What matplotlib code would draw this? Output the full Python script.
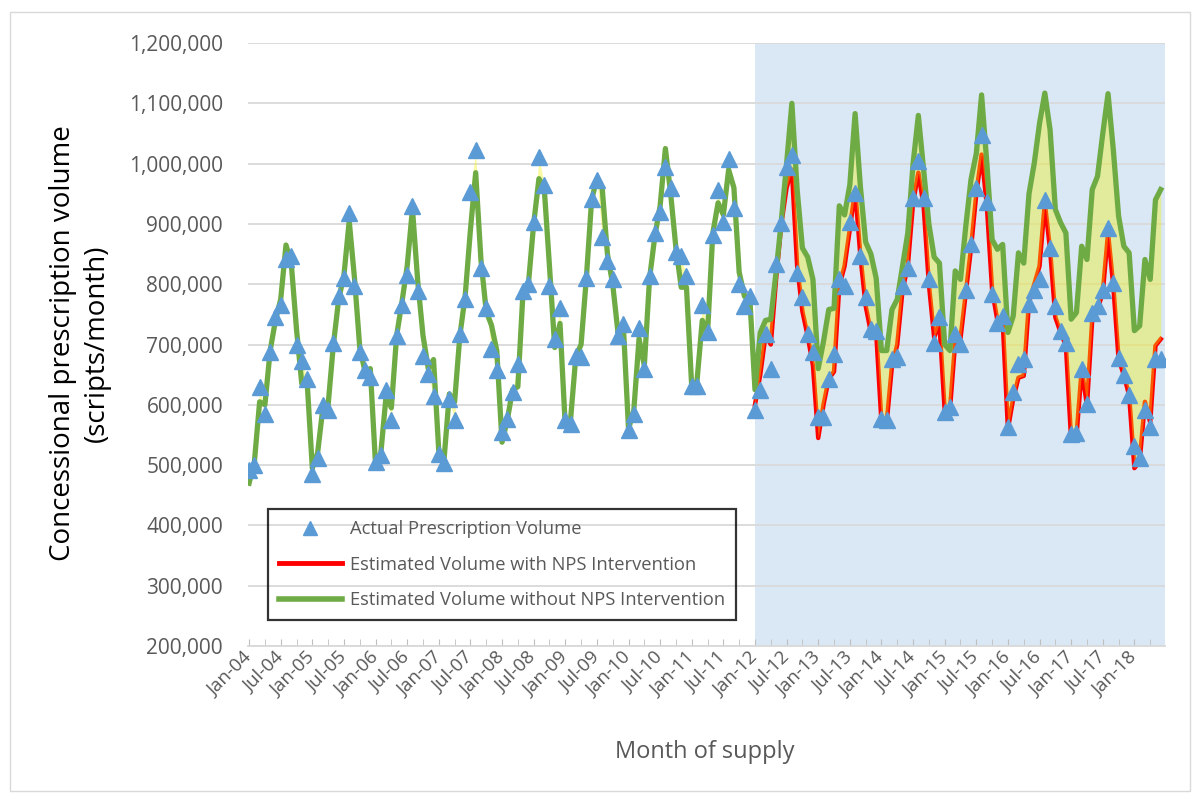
import numpy as np
import matplotlib
matplotlib.use("Agg")
import matplotlib.pyplot as plt
from matplotlib.lines import Line2D
from matplotlib.patches import Rectangle
from matplotlib.ticker import FuncFormatter, MultipleLocator

plt.rcParams['font.family'] = ['Open Sans', 'DejaVu Sans']

# ---------------- data (thousands of scripts / month) ----------------
tick_labels = ["Jan-04", "Jul-04", "Jan-05", "Jul-05", "Jan-06", "Jul-06", "Jan-07", "Jul-07",
               "Jan-08", "Jul-08", "Jan-09", "Jul-09", "Jan-10", "Jul-10", "Jan-11", "Jul-11",
               "Jan-12", "Jul-12", "Jan-13", "Jul-13", "Jan-14", "Jul-14", "Jan-15", "Jul-15",
               "Jan-16", "Jul-16", "Jan-17", "Jul-17", "Jan-18"]

# Jan-04 .. Jun-18 (174 months)
actual_volume = [
    492, 500, 629, 585, 687, 745, 766, 841, 846, 700, 673, 643,
    486, 511, 599, 591, 703, 780, 810, 918, 797, 687, 657, 646,
    505, 516, 624, 574, 714, 766, 816, 929, 788, 681, 651, 615,
    519, 503, 610, 574, 717, 775, 953, 1022, 827, 761, 692, 657,
    555, 577, 621, 668, 789, 800, 904, 1011, 964, 797, 709, 761,
    574, 569, 681, 679, 810, 942, 973, 879, 838, 808, 714, 734,
    558, 585, 728, 659, 813, 885, 920, 995, 959, 854, 846, 813,
    632, 632, 766, 720, 882, 956, 904, 1008, 926, 800, 764, 780,
    591, 624, 717, 659, 833, 902, 995, 1015, 819, 778, 717, 687,
    579, 579, 643, 684, 808, 797, 904, 951, 847, 778, 725, 723,
    577, 574, 676, 679, 797, 827, 943, 1004, 943, 808, 703, 745,
    588, 596, 717, 701, 791, 866, 960, 1048, 937, 783, 736, 747,
    563, 621, 668, 676, 767, 791, 808, 940, 860, 764, 723, 703,
    551, 554, 659, 601, 753, 764, 791, 893, 802, 678, 650, 617,
    532, 512, 592, 563, 676, 676,
]

# Estimated volume without NPS intervention (whole period)
without_nps = [
    470, 505, 605, 600, 690, 740, 775, 865, 835, 725, 635, 640,
    495, 520, 595, 600, 700, 775, 815, 905, 810, 695, 655, 660,
    500, 520, 615, 595, 715, 770, 830, 925, 805, 715, 660, 675,
    522, 510, 618, 605, 715, 780, 890, 985, 840, 755, 732, 690,
    538, 575, 625, 630, 790, 800, 900, 975, 960, 830, 695, 735,
    565, 575, 680, 700, 810, 940, 975, 960, 850, 800, 720, 735,
    560, 590, 710, 665, 810, 880, 930, 1025, 950, 860, 795, 795,
    630, 640, 740, 720, 885, 935, 915, 990, 960, 820, 780, 780,
    625, 720, 740, 742, 820, 905, 1000, 1100, 957, 860, 845, 808,
    660, 705, 758, 760, 930, 915, 965, 1083, 962, 870, 850, 810,
    690, 690, 758, 775, 830, 885, 1000, 1080, 990, 900, 845, 835,
    700, 690, 822, 808, 896, 974, 1017, 1114, 1001, 874, 858, 866,
    720, 747, 852, 835, 950, 1001, 1067, 1117, 1056, 924, 902, 885,
    742, 753, 863, 841, 957, 979, 1050, 1116, 1023, 913, 863, 852,
    723, 731, 841, 808, 940, 957,
]

# Estimated volume with NPS intervention (Jan-12 .. Jun-18)
intervention_start = 96
with_nps = [
    600, 650, 715, 700, 808, 900, 960, 990, 830, 755, 714, 665,
    545, 600, 643, 655, 797, 830, 891, 957, 847, 764, 720, 720,
    571, 571, 665, 700, 790, 830, 935, 985, 930, 800, 712, 735,
    590, 592, 705, 710, 785, 860, 950, 1015, 930, 790, 740, 740,
    560, 610, 645, 648, 770, 800, 830, 935, 857, 745, 720, 698,
    541, 547, 659, 599, 742, 758, 786, 885, 797, 676, 649, 616,
    495, 506, 605, 571, 698, 709,
]

# ---------------- figure ----------------
fig = plt.figure(figsize=(12, 7.94), dpi=100)
fig.patches.append(Rectangle((0.008, 0.004), 0.984, 0.981, transform=fig.transFigure,
                             fill=False, edgecolor='#d9d9d9', lw=1.0))
ax = fig.add_axes([0.2067, 0.1864, 0.7641, 0.7594])

n = len(actual_volume)
x = np.arange(n)
act = np.array(actual_volume) * 1000.0
wo = np.array(without_nps) * 1000.0
xw = np.arange(intervention_start, intervention_start + len(with_nps))
wi = np.array(with_nps) * 1000.0

ax.axvspan(intervention_start - 0.05, n, color='#dae7f5', lw=0, zorder=0)

# fill between "without" estimate and the lower reference
base = act.copy()
base[intervention_start:] = wi
ax.fill_between(x, base, wo, color='#f2f200', alpha=0.36, lw=0, zorder=3)

ax.plot(xw, wi, color='#ff0000', lw=3.2, zorder=2, solid_joinstyle='round')
ax.plot(x, wo, color='#6fab45', lw=3.8, zorder=4, solid_joinstyle='round')
ax.plot(x, act, ls='none', marker='^', ms=11, color='#5b9bd5', zorder=5)

ax.set_xlim(-0.2, 173.8)
ax.set_ylim(200000, 1200000)
ax.yaxis.set_major_locator(MultipleLocator(100000))
ax.yaxis.set_major_formatter(FuncFormatter(lambda v, p: f"{int(round(v)):,}"))
ax.set_axisbelow(True)
ax.yaxis.grid(True, color='#d9d9d9', lw=1.3)

ax.set_xticks(np.arange(0, 6 * len(tick_labels), 6))
ax.set_xticklabels(tick_labels, rotation=45, ha='right', va='center', rotation_mode='anchor')
ax.set_xticks(np.arange(3, 6 * len(tick_labels) + 3, 6), minor=True)
ax.tick_params(axis='x', which='both', direction='in', length=5, color='#bfbfbf',
               labelsize=13.5, labelcolor='#595959', pad=6)
ax.tick_params(axis='y', length=0, labelsize=15, labelcolor='#595959', pad=18)

for s in ['left', 'top', 'right']:
    ax.spines[s].set_visible(False)
ax.spines['bottom'].set_color('#d9d9d9')
ax.spines['bottom'].set_linewidth(1.3)

fig.text(80 / 1200, 1 - 343 / 794, "Concessional prescription volume\n(scripts/month)",
         rotation=90, ha='center', va='center', multialignment='center',
         fontsize=20, color='black', linespacing=1.3)
fig.text(705 / 1200, 1 - 752 / 794, "Month of supply", ha='center', va='center',
         fontsize=17, color='#595959')

handles = [
    Line2D([], [], ls='none', marker='^', ms=10, color='#5b9bd5'),
    Line2D([], [], color='#ff0000', lw=3.5),
    Line2D([], [], color='#6fab45', lw=4),
]
labels = ["Actual Prescription Volume", "Estimated Volume with NPS Intervention",
          "Estimated Volume without NPS Intervention"]
leg = ax.legend(handles, labels, loc='lower left', bbox_to_anchor=(0.022, 0.043),
                borderaxespad=0, fontsize=13.2, labelcolor='#595959', frameon=True,
                fancybox=False, handlelength=3.4, handletextpad=0.45, labelspacing=0.95,
                borderpad=0.6)
leg.get_frame().set_edgecolor('black')
leg.get_frame().set_linewidth(1.6)
leg.get_frame().set_facecolor('none')

fig.savefig("out.png", dpi=100)
